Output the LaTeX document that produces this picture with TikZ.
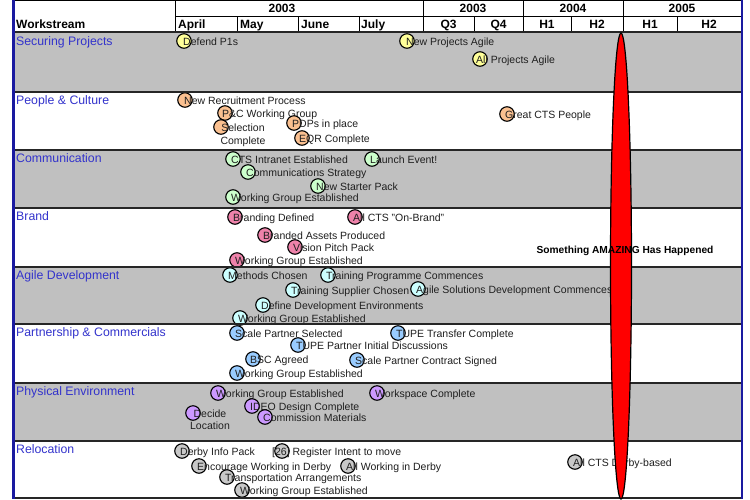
\documentclass[tikz,border=0pt]{standalone}
\usepackage{fontspec}
\setmainfont{Liberation Sans}
\definecolor{rowgray}{HTML}{C0C0C0}
\definecolor{lblblue}{HTML}{3333CC}
\definecolor{bordblue}{HTML}{1A1AA0}
\definecolor{cyel}{HTML}{FFFF99}
\definecolor{cora}{HTML}{FAC090}
\definecolor{cgrn}{HTML}{CCFFCC}
\definecolor{cpnk}{HTML}{EE82AA}
\definecolor{ccyn}{HTML}{CCFFFF}
\definecolor{cblu}{HTML}{99CCFF}
\definecolor{cvio}{HTML}{CC99FF}
\definecolor{cgry}{HTML}{C8C8C8}
\newcommand\msdraw[6]{%
  \node[msc, fill=#2] (c#1) at ({#3},{-#4}) {};
  \node[mlbl] (t#1) at ({#5},{-#4-4}) {#6};
}
\begin{document}
\begin{tikzpicture}[x=1pt,y=1pt,
  msc/.style={circle, draw=black, line width=1.1pt, minimum size=14.5pt, inner sep=0pt},
  mlbl/.style={anchor=base west, inner sep=0pt, font=\fontsize{10.5}{12}\selectfont, text=black!88},
  mlblc/.style={anchor=base, inner sep=0pt, font=\fontsize{10.5}{12}\selectfont, text=black!88},
  rowlbl/.style={anchor=base west, inner sep=0pt, font=\fontsize{12.3}{14}\selectfont, text=lblblue},
  hd/.style={anchor=base, inner sep=0pt, font=\fontsize{12}{14}\selectfont\bfseries, text=black},
  hdw/.style={anchor=base west, inner sep=0pt, font=\fontsize{12}{14}\selectfont\bfseries, text=black},
  thinl/.style={line width=1pt, black},
  divl/.style={line width=2pt, black!85}]
\useasboundingbox (0,0) rectangle (750,-499);
\fill[white] (0,0) rectangle (750,-499);
% row backgrounds
\foreach \a/\b in {32/92, 150/208, 267/324, 383/441}
  \fill[rowgray] (13,-\a) rectangle (742,-\b);
% header grid
\draw[thinl] (13,-0.7) -- (742,-0.7);
\foreach \x in {175,423,523,623} \draw[thinl] (\x,0) -- (\x,-32);
\draw[thinl] (175,-16) -- (742,-16);
\foreach \x in {237,298,359,474,571,677} \draw[thinl] (\x,-16) -- (\x,-32);
% header texts
\node[hdw] (hws) at (16,-28) {Workstream};
\node[hd] (y1) at (282,-12) {2003};
\node[hd] (y2) at (473,-12) {2003};
\node[hd] (y3) at (573,-12) {2004};
\node[hd] (y4) at (682,-12) {2005};
\node[hdw] (m1) at (178,-28) {April};
\node[hdw] (m2) at (240,-28) {May};
\node[hdw] (m3) at (301,-28) {June};
\node[hdw] (m4) at (361,-28) {July};
\node[hd] (m5) at (448.5,-28) {Q3};
\node[hd] (m6) at (498.5,-28) {Q4};
\node[hd] (m7) at (547,-28) {H1};
\node[hd] (m8) at (597,-28) {H2};
\node[hd] (m9) at (650,-28) {H1};
\node[hd] (m10) at (709,-28) {H2};
% row labels
\node[rowlbl] (r1) at (16,-45) {Securing Projects};
\node[rowlbl] (r2) at (16,-104) {People \& Culture};
\node[rowlbl] (r3) at (16,-162) {Communication};
\node[rowlbl] (r4) at (16,-220) {Brand};
\node[rowlbl] (r5) at (16,-279) {Agile Development};
\node[rowlbl] (r6) at (16,-336) {Partnership \& Commercials};
\node[rowlbl] (r7) at (16,-395) {Physical Environment};
\node[rowlbl] (r8) at (16,-453) {Relocation};
% Securing Projects
\msdraw{sp1}{cyel}{184}{41}{183}{Defend P1s}
\msdraw{sp2}{cyel}{407}{41}{406}{New Projects Agile}
\msdraw{sp3}{cyel}{480}{59}{476}{All Projects Agile}
% People & Culture
\msdraw{pc1}{cora}{185}{100}{184}{New Recruitment Process}
\msdraw{pc2}{cora}{225}{113}{222}{P\&C Working Group}
\node[msc, fill=cora] (cpc3) at (221,-127) {};
\node[mlblc] (tpc3) at (243,-131) {Selection};
\node[mlblc] (tpc3b) at (243,-144) {Complete};
\msdraw{pc4}{cora}{294}{123}{292}{PDPs in place}
\msdraw{pc5}{cora}{302}{138}{299}{EQR Complete}
\msdraw{pc6}{cora}{507}{114}{505}{Great CTS People}
% Communication
\msdraw{cm1}{cgrn}{233}{159}{231}{CTS Intranet Established}
\msdraw{cm2}{cgrn}{372}{159}{370}{Launch Event!}
\msdraw{cm3}{cgrn}{248}{172}{246}{Communications Strategy}
\msdraw{cm4}{cgrn}{318}{186}{316}{New Starter Pack}
\msdraw{cm5}{cgrn}{233}{197}{231}{Working Group Established}
% Brand
\msdraw{br1}{cpnk}{235}{217}{233}{Branding Defined}
\msdraw{br2}{cpnk}{355}{217}{353}{All CTS "On-Brand"}
\msdraw{br3}{cpnk}{265}{235}{263}{Branded Assets Produced}
\msdraw{br4}{cpnk}{295}{247}{293}{Vision Pitch Pack}
\msdraw{br5}{cpnk}{237}{260}{235}{Working Group Established}
% Agile Development
\msdraw{ag1}{ccyn}{230}{275}{228}{Methods Chosen}
\msdraw{ag2}{ccyn}{328}{275}{326}{Training Programme Commences}
\msdraw{ag3}{ccyn}{293}{290}{291}{Training Supplier Chosen}
\msdraw{ag4}{ccyn}{418}{289}{416}{Agile Solutions Development Commences}
\msdraw{ag5}{ccyn}{263}{305}{261}{Define Development Environments}
\msdraw{ag6}{ccyn}{240}{318}{238}{Working Group Established}
% Partnership & Commercials
\msdraw{pt1}{cblu}{237}{333}{235}{Scale Partner Selected}
\msdraw{pt2}{cblu}{398}{333}{396}{TUPE Transfer Complete}
\msdraw{pt3}{cblu}{298}{345}{296}{TUPE Partner Initial Discussions}
\msdraw{pt4}{cblu}{253}{359}{250}{BSC Agreed}
\msdraw{pt5}{cblu}{357}{360}{355}{Scale Partner Contract Signed}
\msdraw{pt6}{cblu}{237}{373}{235}{Working Group Established}
% Physical Environment
\msdraw{pe1}{cvio}{218}{393}{216}{Working Group Established}
\msdraw{pe2}{cvio}{377}{393}{375}{Workspace Complete}
\msdraw{pe3}{cvio}{252}{406}{250}{IDEO Design Complete}
\node[msc, fill=cvio] (cpe4) at (193,-413) {};
\node[mlblc] (tpe4) at (210,-417) {Decide};
\node[mlblc] (tpe4b) at (210,-429) {Location};
\msdraw{pe5}{cvio}{265}{417}{263}{Commission Materials}
% Relocation
\msdraw{rl1}{cgry}{182}{451}{180}{Derby Info Pack}
\node[msc, fill=cgry] (crl2) at (282,-451) {};
\node[mlbl] (trl2) at (272,-455) {[26] Register Intent to move};
\msdraw{rl3}{cgry}{199}{466}{197}{Encourage Working in Derby}
\msdraw{rl4}{cgry}{348}{466}{346}{All Working in Derby}
\msdraw{rl5}{cgry}{227}{477}{225}{Transportation Arrangements}
\msdraw{rl6}{cgry}{242}{490}{240}{Working Group Established}
\msdraw{rl7}{cgry}{575}{462}{573}{All CTS Derby-based}
% grid lines
\draw[divl] (13,-32) -- (742,-32);
\foreach \y in {92,150,208,267,324,383,441} \draw[divl] (13,-\y) -- (742,-\y);
\draw[line width=1.5pt, black!85] (13,-498.2) -- (742,-498.2);
\draw[bordblue, line width=2.5pt] (13.5,0) -- (13.5,-499);
\draw[bordblue, line width=2pt] (742,0) -- (742,-499);
% the red event marker
\draw[draw=black, fill=red, line width=1.2pt] (621,-266) ellipse [x radius=10.5, y radius=233];
\node[inner sep=0pt, text=black, font=\fontsize{10.2}{12}\selectfont\bfseries] (amaze) at (625,-251) {Something AMAZING Has Happened};
\end{tikzpicture}
\end{document}
